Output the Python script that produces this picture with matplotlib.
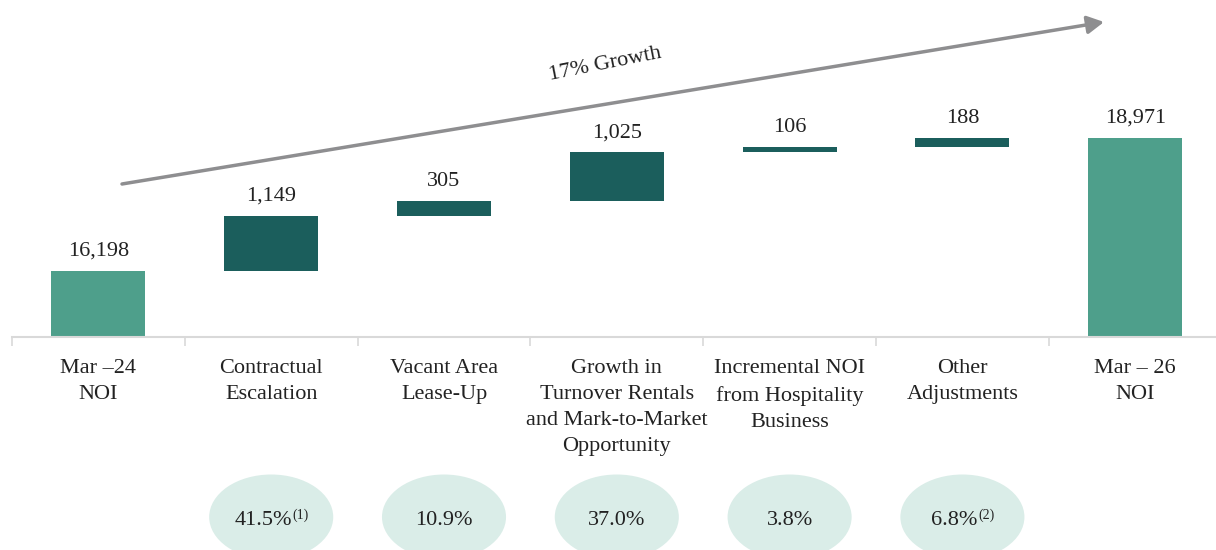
import matplotlib
matplotlib.use("Agg")
import matplotlib.pyplot as plt
from matplotlib.patches import Ellipse
import numpy as np

# ---- data -------------------------------------------------------------
categories = [
    "Mar \u201324\nNOI",
    "Contractual\nEscalation",
    "Vacant Area\nLease-Up",
    "Growth in\nTurnover Rentals\nand Mark-to-Market\nOpportunity",
    "Incremental NOI\nfrom Hospitality\nBusiness",
    "Other\nAdjustments",
    "Mar \u2013 26\nNOI",
]
start_value = 16198
increments = [1149, 305, 1025, 106, 188]
end_value = 18971
shares = ["41.5%", "10.9%", "37.0%", "3.8%", "6.8%"]
share_notes = ["(1)", "", "", "", "(2)"]
growth_label = "17% Growth"

# ---- style ------------------------------------------------------------
plt.rcParams["font.family"] = ["Liberation Serif", "DejaVu Serif"]
TOTAL_C = "#4E9F8B"
STEP_C = "#1B5E5C"
BUBBLE_C = "#DAEDE8"
TEXT_C = "#222222"
ARROW_C = "#8E8E90"
GRID_C = "#D9D9D9"
FS = 16
NOTE_FS = 10

W, H = 1216, 550
fig = plt.figure(figsize=(W / 100, H / 100), dpi=100)

left_px = 12
unit_px = 172.8
base_px = 337                     # y position of the category axis (from top)
xlim = (-0.5, -0.5 + (W - left_px) / unit_px)
y_floor = 14822                   # value at the category axis
px_per_unit = 0.04796
ylim = (y_floor, y_floor + base_px / px_per_unit)

ax = fig.add_axes([left_px / W, (H - base_px) / H, (W - left_px) / W, base_px / H])
ax.set_xlim(*xlim)
ax.set_ylim(*ylim)

# waterfall geometry
x = np.arange(len(categories))
steps_top = start_value + np.cumsum(increments)
steps_bottom = steps_top - np.array(increments)
bar_w = 0.545

ax.bar(x[0], start_value, width=bar_w, color=TOTAL_C)
ax.bar(x[1:-1], increments, bottom=steps_bottom, width=bar_w, color=STEP_C)
ax.bar(x[-1], end_value, width=bar_w, color=TOTAL_C)

labels_vals = [start_value] + increments + [end_value]
tops = [start_value] + list(steps_top) + [end_value]
for xi, v, t in zip(x, labels_vals, tops):
    ax.annotate(f"{v:,}", xy=(xi, t), xytext=(0, 15), textcoords="offset pixels",
                ha="center", va="baseline", fontsize=FS, color=TEXT_C)

# axis styling
for s in ["top", "right", "left"]:
    ax.spines[s].set_visible(False)
ax.spines["bottom"].set_color(GRID_C)
ax.spines["bottom"].set_linewidth(1.5)
ax.set_yticks([])
ax.set_xticks(x)
ax.set_xticklabels(categories, fontsize=FS, color=TEXT_C, linespacing=1.5)
ax.tick_params(axis="x", which="major", length=0, pad=16)
ax.set_xticks(np.arange(-0.5, len(categories) - 0.5, 1.0), minor=True)
ax.tick_params(axis="x", which="minor", length=6.5, width=1.2, color=GRID_C)

# share bubbles under the steps
ax2 = fig.add_axes([left_px / W, 0, (W - left_px) / W, (H - base_px) / H])
ax2.set_xlim(*xlim)
ax2.set_ylim(0, H - base_px)
ax2.axis("off")
renderer = fig.canvas.get_renderer()
text_base = 25
for i, (s, n) in enumerate(zip(shares, share_notes), start=1):
    ax2.add_patch(Ellipse((i, 33), 0.718, 85, facecolor=BUBBLE_C, edgecolor="none"))
    main = ax2.annotate(s, xy=(i, text_base), xytext=(0, 0), textcoords="offset pixels",
                        ha="left", va="baseline", fontsize=FS, color=TEXT_C)
    w_main = main.get_window_extent(renderer).width
    w_note = 0.0
    note = None
    if n:
        note = ax2.annotate(n, xy=(i, text_base), xytext=(0, 16), textcoords="offset pixels",
                            ha="left", va="top", fontsize=NOTE_FS, color=TEXT_C)
        w_note = note.get_window_extent(renderer).width
    x0 = -(w_main + w_note) / 2
    main.set_position((x0, 0))
    if note is not None:
        note.set_position((x0 + w_main + 1, 16))

# overall growth arrow
fig_ax = fig.add_axes([0, 0, 1, 1], facecolor="none")
fig_ax.set_xlim(0, W)
fig_ax.set_ylim(0, H)
fig_ax.axis("off")
fig_ax.annotate("", xy=(1104, H - 22), xytext=(122, H - 184),
                arrowprops=dict(arrowstyle="-|>,head_length=0.5,head_width=0.27",
                                color=ARROW_C, lw=2.5, mutation_scale=20,
                                shrinkA=0, shrinkB=0))
fig_ax.text(605, H - 64, growth_label, ha="center", va="center", rotation=11.3,
            rotation_mode="anchor", fontsize=FS, color=TEXT_C)

fig.savefig("out.png", dpi=100)
